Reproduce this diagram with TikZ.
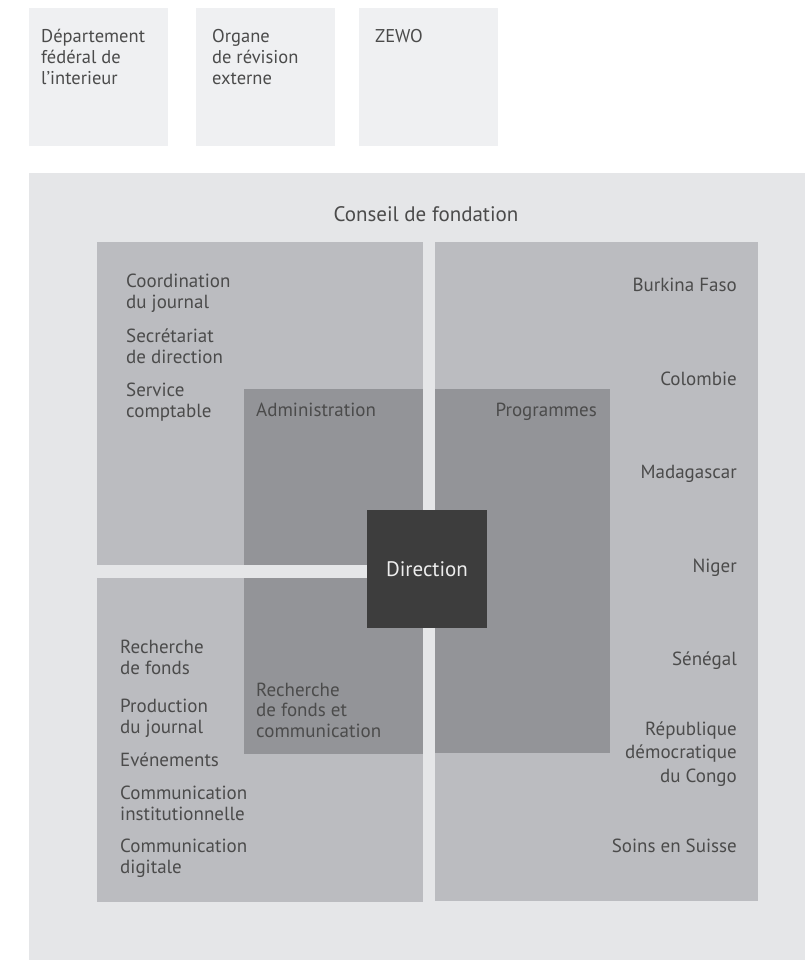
\documentclass[tikz,border=0pt]{standalone}
\usepackage{fontspec}
\setmainfont{PT Sans}
\usepackage{tikz}
\usetikzlibrary{positioning,backgrounds}
\definecolor{bgouter}{HTML}{E5E6E8}
\definecolor{bgtop}{HTML}{EFF0F2}
\definecolor{quad}{HTML}{BBBCC0}
\definecolor{core}{HTML}{939498}
\definecolor{dircol}{HTML}{3D3D3D}
\definecolor{ink}{HTML}{4B4B4B}

\begin{document}
\begin{tikzpicture}
				[x=1pt, y=-1pt, inner sep=0pt,
				outside/.style		= {rectangle, fill=bgtop, minimum width=139pt, minimum height=138pt},
				pane/.style			= {rectangle, fill=quad},
				unit/.style			= {rectangle, fill=core},
				head/.style			= {rectangle, fill=dircol, text=white!93!black, font=\fontsize{21}{24}\selectfont},
				toptxt/.style		= {text=ink, align=left, anchor=base west, font=\fontsize{18.5}{21}\selectfont},
				txt/.style			= {text=ink, align=left, anchor=base west, font=\fontsize{19}{20.5}\selectfont},
				txtr/.style			= {text=ink, align=right, anchor=base east, font=\fontsize{19}{23.5}\selectfont}]
				
				\useasboundingbox (0,0) rectangle (805,960);
				
				\node [outside, anchor=north west]	at (29,8)						(dfi)	{};
				\node [outside]	[right = 27pt of dfi]								(orx)	{};
				\node [outside]	[right = 24pt of orx]								(zewo)	{};
				
				\node [toptxt]	at (41,85)		(dfitxt)	{Département\\fédéral de\\l’interieur};
				\node [toptxt]	at (212,85)		(orxtxt)	{Organe\\de révision\\externe};
				\node [toptxt]	at (375,43)		(zewotxt)	{ZEWO};
				
				\node [rectangle, fill=bgouter, anchor=north west, minimum width=776pt, minimum height=787pt]	at (29,173)	(conseil) {};
				\node [txt, anchor=base, font=\fontsize{21}{24}\selectfont]	at (426,221)	(conseiltxt)	{Conseil de fondation};
				
				\node [pane, anchor=north west, minimum width=326pt, minimum height=323pt]	at (97,242)	(admq)	{};
				\node [pane, minimum width=326pt, minimum height=324pt]	[below = 12pt of admq]		(fundq)	{};
				\node [pane, anchor=north west, minimum width=323pt, minimum height=659pt]	at ([xshift=11pt]admq.north east)	(progq)	{};
				
				\node [unit, anchor=south east, minimum width=179pt, minimum height=176pt]	at (admq.south east)	(adm)	{};
				\node [unit, anchor=north east, minimum width=179pt, minimum height=176pt]	at (fundq.north east)	(fund)	{};
				\node [unit, anchor=north west, minimum width=175pt, minimum height=364pt]	at (progq.west |- adm.north)	(prog)	{};
				
				\node [head, minimum width=120pt, minimum height=118pt]	at (427,569)	(dir)	{\raisebox{-2pt}{Direction}};
				
				\node [txt]		at (126,308)	(coord)		{Coordination\\du journal};
				\node [txt]		at (126,363)	(secr)		{Secrétariat\\de direction};
				\node [txt]		at (126,417)	(compta)	{Service\\comptable};
				\node [txt]		at (256,416)	(admtxt)	{Administration};
				
				\node [txt]		at (120,674)	(rdf)		{Recherche\\de fonds};
				\node [txt]		at (120,733)	(prod)		{Production\\du journal};
				\node [txt]		at (120,766)	(evt)		{Evénements};
				\node [txt]		at (120,820)	(cominst)	{Communication\\institutionnelle};
				\node [txt]		at (120,873)	(comdig)	{Communication\\digitale};
				\node [txt]		at (256,737)	(fundtxt)	{Recherche\\de fonds et\\communication};
				
				\node [txtr]	at (597,416)	(progtxt)	{Programmes};
				\node [txtr]	at (737,291)	(bf)		{Burkina Faso};
				\node [txtr]	at (737,385)	(col)		{Colombie};
				\node [txtr]	at (737,478)	(mad)		{Madagascar};
				\node [txtr]	at (737,572)	(nig)		{Niger};
				\node [txtr]	at (737,665)	(sen)		{Sénégal};
				\node [txtr]	at (737,782)	(rdc)		{République\\démocratique\\du Congo};
				\node [txtr]	at (737,852)	(suisse)	{Soins en Suisse};
				\end{tikzpicture}
\end{document}
